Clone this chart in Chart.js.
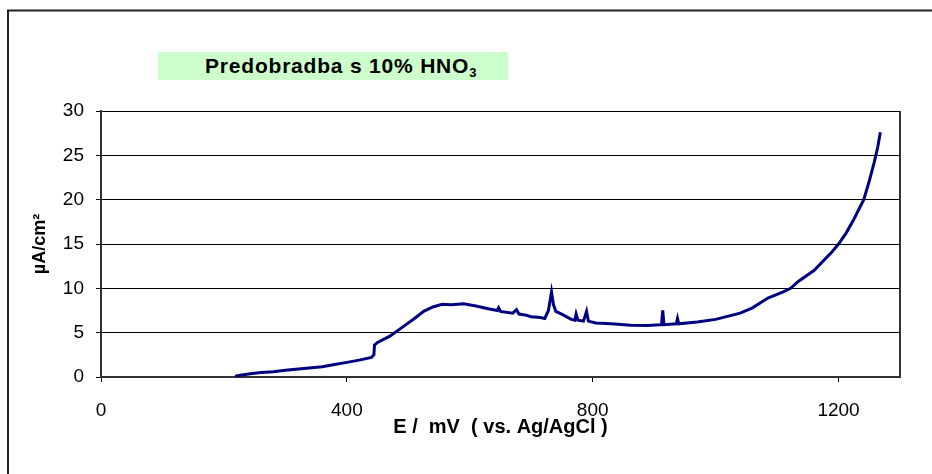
<!DOCTYPE html>
<html>
<head>
<meta charset="utf-8">
<script src="https://cdn.jsdelivr.net/npm/chart.js@4"></script>
<style>
  body { margin: 0; background: #fff; }
  #wrap { position: relative; width: 932px; height: 474px; }
  #title {
    position: absolute; left: 158px; top: 52px; width: 350px; height: 28px;
    background: #ccffcc; font: bold 21px "Liberation Sans", Arial, sans-serif;
    letter-spacing: 0.8px;
    line-height: 27px; padding-left: 47px; box-sizing: border-box; color: #000;
  }
  #title sub { font-size: 13px; vertical-align: -4px; line-height: 0; }
</style>
</head>
<body>
<div id="wrap">
  <canvas id="curve" width="932" height="474"></canvas>
  <div id="title">Predobradba s 10% HNO<sub>3</sub></div>
</div>
<script>
// potencial (mV) i gustoca struje (uA/cm2), ocitano sa slike
const potentialMv = [218, 222, 240, 260, 280, 300, 330, 360, 380, 400, 420, 440, 444, 445, 450, 470, 490, 510, 525, 540, 555, 570, 590, 610, 630, 645, 647, 650, 670, 676, 680, 690, 700, 715, 722, 728, 733, 736, 740, 752, 765, 771, 773, 776, 785, 790, 793, 805, 830, 862, 890, 912, 914, 916, 936, 938, 940, 970, 1000, 1040, 1060, 1085, 1110, 1122, 1135, 1160, 1188, 1200, 1212, 1225, 1241, 1250, 1258, 1264, 1268];
const currentDensity = [0.1, 0.15, 0.35, 0.5, 0.6, 0.75, 0.95, 1.15, 1.4, 1.65, 1.9, 2.2, 2.5, 3.6, 3.9, 4.6, 5.6, 6.6, 7.4, 7.9, 8.2, 8.15, 8.25, 8.0, 7.7, 7.5, 7.8, 7.4, 7.2, 7.6, 7.1, 7.0, 6.8, 6.7, 6.6, 7.5, 9.6, 8.2, 7.4, 7.0, 6.5, 6.4, 7.1, 6.4, 6.3, 7.4, 6.3, 6.1, 6.0, 5.85, 5.8, 5.9, 7.5, 5.9, 6.0, 6.6, 6.0, 6.2, 6.5, 7.2, 7.8, 8.9, 9.6, 10.0, 10.8, 12.0, 14.0, 15.0, 16.2, 17.8, 20.0, 22.1, 24.2, 26.0, 27.6];
const xTickLabels = [0, 400, 800, 1200];
const yTickLabels = [0, 5, 10, 15, 20, 25, 30];

const points = potentialMv.map((e, i) => ({ x: e, y: currentDensity[i] }));
const fontFam = '"Liberation Sans", Arial, sans-serif';

// okvir oko cijelog grafa i desni rub podrucja crtanja
const frames = {
  id: 'frames',
  beforeDraw(chart) {
    const ctx = chart.ctx;
    ctx.save();
    ctx.strokeStyle = '#222';
    ctx.lineWidth = 2;
    ctx.strokeRect(8, 10.5, 1000, 1000);
    ctx.restore();
  },
  afterDatasetsDraw(chart) {
    const a = chart.chartArea;
    const ctx = chart.ctx;
    ctx.save();
    ctx.strokeStyle = '#333';
    ctx.lineWidth = 2;
    ctx.beginPath();
    ctx.moveTo(a.right, a.top);
    ctx.lineTo(a.right, a.bottom);
    ctx.stroke();
    ctx.restore();
  }
};

new Chart(document.getElementById('curve'), {
  type: 'line',
  data: {
    datasets: [{
      data: points,
      borderColor: '#000080',
      borderWidth: 3,
      pointRadius: 0,
      tension: 0,
      fill: false
    }]
  },
  options: {
    responsive: false,
    animation: false,
    layout: { padding: { left: 0, top: 111, right: 32, bottom: 0 } },
    plugins: { legend: { display: false }, tooltip: { enabled: false } },
    scales: {
      x: {
        type: 'linear',
        min: 0,
        max: 1300,
        afterFit(s) { s.height = 97; },
        afterBuildTicks(s) { s.ticks = xTickLabels.map(v => ({ value: v })); },
        ticks: {
          font: { family: fontFam, size: 19 }, color: '#000', padding: 17, maxRotation: 0,
          callback: v => String(v)
        },
        grid: { drawOnChartArea: false, drawTicks: true, tickLength: 5, color: '#000' },
        border: { display: true, color: '#333', width: 2 },
        title: {
          display: true,
          text: 'E /  mV  ( vs. Ag/AgCl )',
          font: { family: fontFam, size: 20, weight: 'bold' },
          color: '#000',
          padding: { top: 0, bottom: 35 }
        }
      },
      y: {
        min: 0,
        max: 30,
        afterFit(s) { s.width = 101; },
        afterBuildTicks(s) { s.ticks = yTickLabels.map(v => ({ value: v })); },
        ticks: { font: { family: fontFam, size: 19 }, color: '#000', padding: 12, callback: v => String(v) },
        grid: { color: '#000', lineWidth: 1, tickLength: 5 },
        border: { display: true, color: '#333', width: 2 },
        title: {
          display: true,
          text: 'µA/cm²',
          font: { family: fontFam, size: 18, weight: 'bold' },
          color: '#000',
          padding: { top: 29, bottom: 0 }
        }
      }
    }
  },
  plugins: [frames]
});
</script>
</body>
</html>
